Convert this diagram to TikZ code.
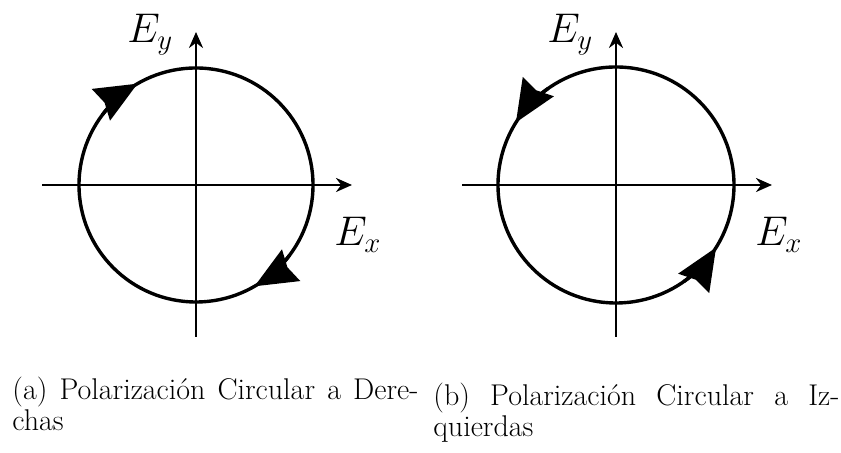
\documentclass[tikz,border=0pt]{standalone}
\usetikzlibrary{arrows.meta}
\begin{document}
\begin{tikzpicture}[x=0.5pt,y=0.5pt,
  axis/.style={line width=1.3pt,-{Stealth[length=8pt,width=7pt]}},
  circ/.style={line width=1.7pt},
  dirarrow/.style={line width=1.7pt,-{Stealth[length=21pt,width=18pt,inset=2pt]}},
  lbl/.style={inner sep=0pt,font=\fontsize{21}{24}\selectfont},
  captext/.style={inner sep=0pt,text width=203pt,align=justify,font=\fontsize{15}{14}\selectfont}]
\useasboundingbox (0,0) rectangle (841,453);
% left diagram
\coordinate (cL) at (196,268);
\coordinate (hLs) at (42,268);
\coordinate (hLe) at (352,268);
\coordinate (vLs) at (196,116);
\coordinate (vLe) at (196,421);
\draw[axis] (hLs) -- (hLe);
\draw[axis] (vLs) -- (vLe);
\draw[circ] (cL) circle (117);
\draw[dirarrow] (cL) ++(143:117) arc (143:120:117);
\draw[dirarrow] (cL) ++(-37:117) arc (-37:-60:117);
\node[lbl,anchor=base west] (eyL) at (127,410) {$E_y$};
\node[lbl,anchor=base west] (exL) at (334,207) {$E_x$};
% right diagram
\coordinate (cR) at (616,268);
\coordinate (hRs) at (462,268);
\coordinate (hRe) at (772,268);
\coordinate (vRs) at (616,116);
\coordinate (vRe) at (616,421);
\draw[axis] (hRs) -- (hRe);
\draw[axis] (vRs) -- (vRe);
\draw[circ] (cR) circle (118);
\draw[dirarrow] (cR) ++(125:118) arc (125:148:118);
\draw[dirarrow] (cR) ++(-55:118) arc (-55:-32:118);
\node[lbl,anchor=base west] (eyR) at (547,410) {$E_y$};
\node[lbl,anchor=base west] (exR) at (755,207) {$E_x$};
% captions
\node[captext,anchor=north west] (capA) at (12,76) {(a) Polarización Circular a Dere-\linebreak chas};
\node[captext,anchor=north west] (capB) at (433,70) {(b) Polarización Circular a Iz-\linebreak quierdas};
\end{tikzpicture}
\end{document}
